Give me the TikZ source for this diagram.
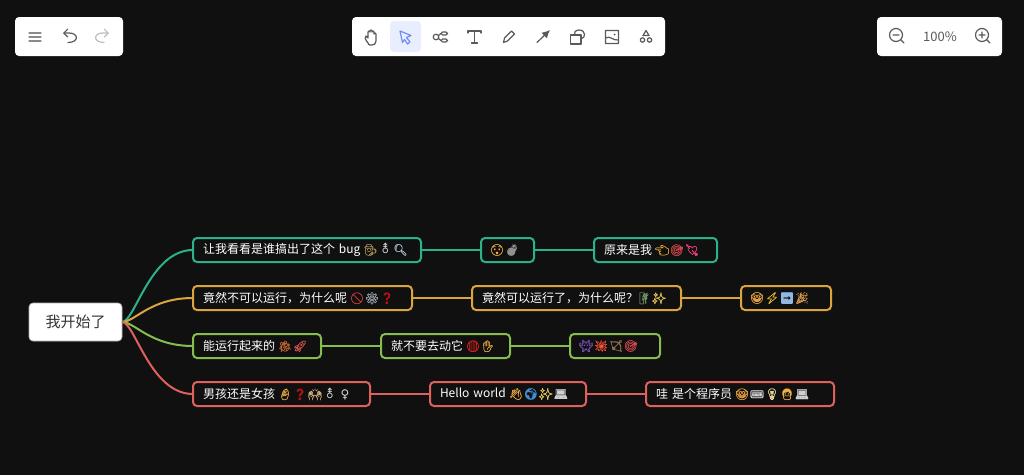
\documentclass[tikz,border=0pt]{standalone}
\usepackage{fontspec}
\setmainfont{Noto Sans CJK SC}
\newfontfamily\emojifont[FakeBold=0.4]{Noto Emoji}
\newfontfamily\symfont{DejaVu Sans}
\usetikzlibrary{positioning,arrows.meta,calc}
\definecolor{pagebg}{HTML}{101010}
\definecolor{greenline}{HTML}{2BB28C}
\definecolor{yellowline}{HTML}{D9A53C}
\definecolor{limeline}{HTML}{86BD4E}
\definecolor{redline}{HTML}{DE615D}
\definecolor{iconcol}{HTML}{5A5A5A}
\definecolor{selectbg}{HTML}{E9EEFF}
\definecolor{selectcol}{HTML}{6E8CF5}
\newcommand{\emo}[2]{\makebox[9pt]{\emojifont\fontsize{8.5pt}{10pt}\selectfont\textcolor[HTML]{#1}{#2}}\kern2.25pt}
\newcommand{\gsym}[1]{\makebox[9pt]{\symfont\textcolor[HTML]{D8D8D8}{#1}}\kern2.25pt}
\newcommand{\gap}{\kern3pt}
\newcommand{\tline}[1]{\makebox[0pt][l]{\raisebox{-0.6pt}{#1}}}
\tikzset{
    panel/.style={fill=white,rounded corners=3pt,draw=none},
    rootnode/.style={fill=white,draw=gray!60,line width=0.5pt,rounded corners=3pt,text=black!80,font=\fontsize{11.25pt}{13pt}\selectfont,
        minimum width=69.75pt,minimum height=28.5pt,inner sep=0pt,outer sep=0pt},
    topicnode/.style 2 args={draw=#1,line width=1.5pt,rounded corners=3pt,fill=pagebg,text=white,font=\fontsize{9pt}{11pt}\selectfont,
        text width=#2pt-15pt,minimum height=18pt,inner xsep=7.5pt,inner ysep=0pt,outer sep=0pt,anchor=west,align=left},
    branch/.style={draw=#1,line width=1.5pt},
    icon/.style={draw=iconcol,line width=0.9pt,line cap=round,line join=round},
    faint/.style={draw=iconcol!40,line width=0.9pt,line cap=round,line join=round}
}
\begin{document}
\begin{tikzpicture}[x=0.75pt,y=-0.75pt]
    \path[use as bounding box,fill=pagebg] (0,0) rectangle (1024,475);
    % toolbars
    \path[panel] (15,17) rectangle (123,56);
    \path[panel] (352,17) rectangle (665,56);
    \path[panel] (877,17) rectangle (1002,56);
    \path[fill=selectbg,rounded corners=3pt] (390,21) rectangle (421,52);
    % left toolbar icons
    \draw[icon,draw=iconcol!70] (29,33)--(41,33) (29,37)--(41,37) (29,41)--(41,41);
    \draw[icon,-{Straight Barb[length=3pt,width=6pt]}] (68,42.5) .. controls (79,42.5) and (79,33) .. (69,33) -- (63,33);
    \draw[faint,-{Straight Barb[length=3pt,width=6pt]}] (104,42.5) .. controls (93,42.5) and (93,33) .. (103,33) -- (109,33);
    % hand
    \draw[icon] (368,43) .. controls (365,39) and (364,37) .. (366,36) -- (368,38) -- (368,32)
        .. controls (368,30.5) and (370,30.5) .. (370,32) -- (370,31) .. controls (370,29.5) and (372,29.5) .. (372,31)
        -- (372,32) .. controls (372,30.5) and (374,30.5) .. (374,32) -- (374,34) .. controls (374,32.5) and (376,32.5) .. (376,34)
        -- (376,41) .. controls (376,44) and (374,45) .. (372,45) -- (370,45) .. controls (369,45) and (368,44) .. (368,43);
    % pointer
    \draw[icon,draw=selectcol] (400,31) -- (411,35.5) -- (406.5,37.5) -- (410,42) -- (407.5,44) -- (404.5,39.5) -- (402.5,42.5) -- cycle;
    % mind map
    \draw[icon] (436,37) circle (2.8) (438.5,35.5) -- (441,33.5) (438.5,38.5) -- (441,40.5);
    \draw[icon,rounded corners=1.2pt] (441,32) rectangle (447.5,35) (441,39) rectangle (447.5,42);
    % text
    \draw[icon] (468,33) -- (468,31) -- (481,31) -- (481,33) (474.5,31) -- (474.5,43) (471.5,43) -- (477.5,43);
    % pencil
    \draw[icon] (503.5,42.5) -- (504.5,38) -- (511.5,31) -- (514.5,34) -- (507.5,41) -- cycle;
    % arrow
    \draw[icon,-{Latex[length=6pt,width=6pt]}] (537,42.5) -- (550,30);
    % shapes
    \draw[icon] (570.5,35) rectangle (581,44);
    \draw[icon] (581,39) .. controls (586,38) and (586,30) .. (579,30) .. controls (575,30) and (574,33) .. (574.5,35);
    % image
    \draw[icon] (605.5,30.5) rectangle (618.5,43.5) (605.5,38) .. controls (610,35) and (613,41) .. (618.5,40);
    \fill[iconcol] (614.5,34.5) circle (1);
    % components
    \draw[icon] (646,30.5) -- (649,35.5) -- (643,35.5) -- cycle (642.5,40) circle (2.2) (649.5,40) circle (2.2);
    % zoom
    \draw[icon] (896,35) circle (6.5) (893,35) -- (899,35) (901,40) -- (904,43);
    \draw[icon] (982,35) circle (6.5) (979,35) -- (985,35) (982,32) -- (982,38) (987,40) -- (990,43);
    \node[text=iconcol,font=\fontsize{9.75pt}{11pt}\selectfont,inner sep=0pt] (zoomlabel) at (940,37) {100\%};
    % mind map nodes
    \node[rootnode] (root) at (75.5,322) {\raisebox{-0.6pt}{我开始了}};
    \node[topicnode={greenline}{171}] (bugA) at (193,250) {\tline{让我看看是谁搞出了这个 bug\gap\emo{A08A50}{🕵}\gsym{⚨}\emo{B0C4D0}{🔍}}};
    \node[topicnode={greenline}{39.75}] (bugB) at (481,250) {\tline{\emo{F0B040}{😯}\emo{909090}{💣}}};
    \node[topicnode={greenline}{92.25}] (bugC) at (594,250) {\tline{原来是我\gap\emo{E0A030}{👈}\emo{D0484C}{🎯}\emo{F04080}{💘}}};
    \node[topicnode={yellowline}{164.25}] (whyA) at (193,298) {\tline{竟然不可以运行，为什么呢\gap\emo{D83A3A}{🚫}\emo{A0A8B0}{⚙}\emo{C01010}{❓}}};
    \node[topicnode={yellowline}{156.75}] (whyB) at (472,298) {\tline{竟然可以运行了，为什么呢？\emo{709060}{🧗}\emo{F0D060}{✨}}};
    \node[topicnode={yellowline}{67.5}] (whyC) at (741,298) {\tline{\emo{E8A040}{🤓}\emo{F0C030}{⚡}\emo{90B8E0}{➡}\emo{E0A050}{🎉}}};
    \node[topicnode={limeline}{96}] (runA) at (193,346) {\tline{能运行起来的\gap\emo{C06030}{🐞}\emo{D05050}{🚀}}};
    \node[topicnode={limeline}{96.75}] (runB) at (381,346) {\tline{就不要去动它\gap\emo{E02020}{🔴}\emo{F0B040}{✋}}};
    \node[topicnode={limeline}{67.5}] (runC) at (570,346) {\tline{\emo{7050B0}{👾}\emo{F05030}{💥}\emo{907050}{🏹}\emo{D0484C}{🎯}}};
    \node[topicnode={redline}{132.75}] (kidA) at (193,394) {\tline{男孩还是女孩\gap\emo{F0B040}{👶}\emo{C01010}{❓}\emo{D0B080}{🙌}\gsym{⚨}\gsym{♀}}};
    \node[topicnode={redline}{117}] (kidB) at (430,394) {\tline{Hello world\gap\emo{F0B040}{👋}\emo{4090D0}{🌍}\emo{F0D060}{✨}\emo{D0D0D0}{💻}}};
    \node[topicnode={redline}{141}] (kidC) at (646,394) {\tline{哇 是个程序员\gap\emo{E8A040}{🤓}\emo{D0D0D0}{⌨}\emo{F0E0A0}{💡}\emo{F0B040}{👩}\emo{D0D0D0}{💻}}};
    % connectors
    \foreach \target/\col in {bugA/greenline,whyA/yellowline,runA/limeline,kidA/redline}
        \draw[branch=\col] (root.east) .. controls +(13,0) and ($(\target.west)+(-43,0)$) .. (\target.west);
    \draw[branch=greenline] (bugA) -- (bugB);
    \draw[branch=greenline] (bugB) -- (bugC);
    \draw[branch=yellowline] (whyA) -- (whyB);
    \draw[branch=yellowline] (whyB) -- (whyC);
    \draw[branch=limeline] (runA) -- (runB);
    \draw[branch=limeline] (runB) -- (runC);
    \draw[branch=redline] (kidA) -- (kidB);
    \draw[branch=redline] (kidB) -- (kidC);
\end{tikzpicture}
\end{document}
